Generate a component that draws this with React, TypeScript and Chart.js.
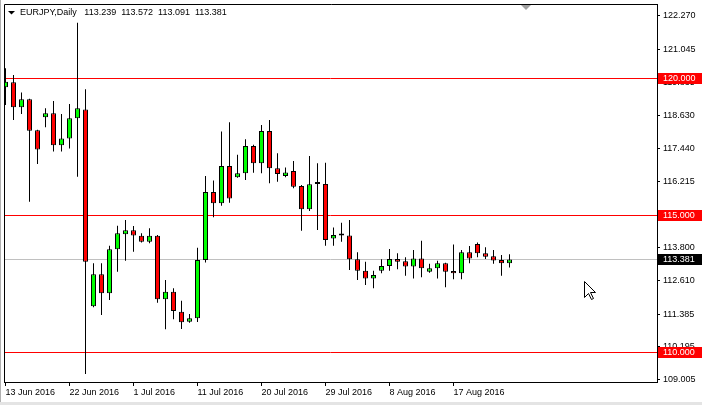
import React, { useEffect, useRef } from "react";
import { Chart, registerables } from "chart.js";

Chart.register(...registerables);

const symbolTitle = "EURJPY,Daily";
const headerValues = ["113.239", "113.572", "113.091", "113.381"];

const opens = [
  119.67, 119.85, 118.94, 119.23, 118.1, 118.57, 118.72, 117.55, 117.8, 118.54,
  118.86, 111.67, 112.84, 112.15, 113.75, 114.3, 114.45, 114.25, 114.03, 114.25,
  111.93, 112.2, 111.47, 111.11, 111.23, 113.36, 115.84, 115.43, 116.79, 116.38,
  116.53, 117.52, 116.89, 118.07, 116.71, 116.43, 116.61, 116.06, 115.21, 116.14,
  116.14, 114.15, 114.26, 114.26, 113.39, 112.97, 112.69, 112.97, 113.14, 113.4,
  113.32, 113.12, 113.42, 112.93, 113.06, 113.24, 112.96, 112.88, 113.64, 113.95,
  113.61, 113.5, 113.36, 113.239,
];
const highs = [
  120.36, 120.12, 119.48, 119.25, 118.12, 118.9, 119.17, 118.69, 119.06, 122.02,
  119.6, 113.24, 113.24, 113.88, 114.61, 114.82, 114.6, 114.34, 114.52, 114.27,
  112.63, 112.33, 111.87, 111.39, 113.81, 116.43, 116.26, 118.05, 118.39, 117.2,
  117.77, 117.57, 118.29, 118.47, 117.26, 116.74, 116.98, 116.1, 117.16, 116.89,
  116.91, 114.55, 114.72, 114.82, 113.64, 113.3, 112.97, 113.39, 113.76, 113.61,
  113.46, 113.73, 114.06, 113.22, 113.33, 113.26, 113.93, 113.73, 113.87, 114.0,
  113.83, 113.73, 113.54, 113.572,
];
const lows = [
  119.02, 118.47, 118.69, 115.49, 116.87, 118.21, 117.32, 117.32, 117.43, 116.4,
  109.2, 111.64, 111.35, 111.9, 112.93, 113.33, 113.66, 114.0, 113.97, 111.8,
  110.83, 111.2, 110.84, 111.07, 111.1, 113.27, 114.92, 115.34, 115.45, 116.36,
  116.28, 116.55, 116.53, 116.16, 116.22, 116.38, 115.98, 114.43, 115.15, 114.46,
  113.88, 113.88, 114.03, 113.0, 112.63, 112.45, 112.33, 112.88, 112.97, 113.02,
  112.79, 112.69, 112.73, 112.9, 112.69, 112.37, 112.66, 112.66, 113.24, 113.46,
  113.4, 113.22, 112.79, 113.091,
];
const closes = [
  119.87, 118.94, 119.23, 118.08, 117.4, 118.72, 117.55, 117.8, 118.54, 118.9,
  113.3, 112.84, 112.15, 113.75, 114.34, 114.45, 114.26, 114.03, 114.25, 111.93,
  112.2, 111.5, 111.09, 111.23, 113.36, 115.84, 115.43, 116.79, 115.61, 116.53,
  117.52, 116.89, 118.07, 116.71, 116.5, 116.56, 116.04, 115.21, 116.13, 116.14,
  114.09, 114.27, 114.26, 113.39, 112.97, 112.69, 112.81, 113.14, 113.4, 113.3,
  113.12, 113.42, 113.06, 113.06, 113.24, 112.93, 112.88, 113.64, 113.42, 113.61,
  113.48, 113.34, 113.24, 113.381,
];

const dateTickIndex = [0, 8, 16, 24, 32, 40, 48, 56];
const dateTickLabels = [
  "13 Jun 2016",
  "22 Jun 2016",
  "1 Jul 2016",
  "11 Jul 2016",
  "20 Jul 2016",
  "29 Jul 2016",
  "8 Aug 2016",
  "17 Aug 2016",
];
const priceTicks = [
  122.27, 121.045, 119.835, 118.63, 117.44, 116.215, 115.01, 113.8, 112.61, 111.385,
  110.195, 109.005,
];
const levelLines = [120, 115, 110];
const lastPrice = 113.381;

const yMin = 108.907;
const yMax = 122.708;
const xMin = -0.1875;
const xMax = 81.4375;

const FONT = '9px "Liberation Sans", Arial, sans-serif';
const UP = "#00ff00";
const DOWN = "#ff0000";

const overlay = {
  id: "mt4overlay",
  beforeDraw(chart: any) {
    const { ctx, width, height } = chart;
    ctx.save();
    ctx.fillStyle = "#ffffff";
    ctx.fillRect(0, 0, width, height);
    ctx.restore();
  },
  beforeDatasetsDraw(chart: any) {
    const { ctx, chartArea: a, scales } = chart;
    const y = scales.y;
    ctx.save();
    ctx.lineWidth = 1;
    const hline = (v: number, color: string) => {
      const py = Math.floor(y.getPixelForValue(v)) + 0.5;
      ctx.strokeStyle = color;
      ctx.beginPath();
      ctx.moveTo(a.left, py);
      ctx.lineTo(a.right, py);
      ctx.stroke();
    };
    hline(lastPrice, "#c0c0c0");
    levelLines.forEach((v) => hline(v, "#ff0000"));
    ctx.restore();
  },
  afterDatasetsDraw(chart: any) {
    const { ctx, chartArea: a } = chart;
    ctx.save();
    ctx.strokeStyle = "#000000";
    ctx.lineWidth = 1;
    ctx.beginPath();
    ctx.moveTo(a.left + 0.5, a.bottom);
    ctx.lineTo(a.left + 0.5, a.top + 0.5);
    ctx.lineTo(a.right + 1, a.top + 0.5);
    ctx.stroke();
    ctx.restore();
  },
  afterDraw(chart: any) {
    const { ctx, chartArea: a, scales, width, height } = chart;
    const y = scales.y;
    ctx.save();
    ctx.font = FONT;
    ctx.textBaseline = "middle";
    ctx.textAlign = "left";
    const box = (v: number, bg: string) => {
      const py = Math.floor(y.getPixelForValue(v));
      ctx.fillStyle = bg;
      ctx.fillRect(a.right + 1, py - 5, 44, 11);
      ctx.fillStyle = "#ffffff";
      ctx.fillText(v.toFixed(3), 663, py + 0.5);
    };
    levelLines.forEach((v) => box(v, "#ff0000"));
    box(lastPrice, "#000000");

    // header
    ctx.fillStyle = "#000000";
    ctx.beginPath();
    ctx.moveTo(8, 11);
    ctx.lineTo(15, 11);
    ctx.lineTo(11.5, 14.5);
    ctx.closePath();
    ctx.fill();
    ctx.fillText(symbolTitle + "   " + headerValues.join("  "), 20, 13);

    // chart shift marker
    ctx.fillStyle = "#a0a0a0";
    ctx.beginPath();
    ctx.moveTo(521, 5);
    ctx.lineTo(531, 5);
    ctx.lineTo(526, 10);
    ctx.closePath();
    ctx.fill();

    // window edges
    ctx.fillStyle = "#b0b0b0";
    ctx.fillRect(0, 0, 1, height);
    ctx.fillStyle = "#e4e4e4";
    ctx.fillRect(0, height - 3, width, 3);

    // mouse cursor
    const cx = 584;
    const cy = 281;
    const pts = [
      [0, 0], [0, 16], [4, 12], [7, 18], [9, 17], [6, 11], [11, 11],
    ];
    ctx.beginPath();
    pts.forEach(([px, py], i) => {
      if (i === 0) ctx.moveTo(cx + px + 0.5, cy + py + 0.5);
      else ctx.lineTo(cx + px + 0.5, cy + py + 0.5);
    });
    ctx.closePath();
    ctx.fillStyle = "#ffffff";
    ctx.fill();
    ctx.strokeStyle = "#000000";
    ctx.lineWidth = 1;
    ctx.stroke();
    ctx.restore();
  },
};

export default function App() {
  const canvasRef = useRef<HTMLCanvasElement | null>(null);

  useEffect(() => {
    const canvas = canvasRef.current;
    if (!canvas) return;
    const bodies = opens.map((o, i) => ({ x: i, y: [o, closes[i]] }));
    const wicks = lows.map((l, i) => ({ x: i, y: [l, highs[i]] }));
    const bodyColors = opens.map((o, i) =>
      closes[i] > o ? UP : closes[i] < o ? DOWN : "#000000"
    );

    const chart = new Chart(canvas, {
      type: "bar",
      data: {
        datasets: [
          {
            label: "body",
            data: bodies as any,
            backgroundColor: bodyColors,
            borderColor: "#000000",
            borderWidth: 1,
            borderSkipped: false,
            barThickness: 5,
            minBarLength: 2,
            grouped: false,
            inflateAmount: 0,
            clip: 0,
            order: 0,
          } as any,
          {
            label: "wick",
            data: wicks as any,
            backgroundColor: "#000000",
            borderWidth: 0,
            barThickness: 1,
            grouped: false,
            inflateAmount: 0,
            clip: 0,
            order: 1,
          } as any,
        ],
      },
      options: {
        responsive: false,
        animation: false,
        events: [],
        layout: { padding: { left: 4, top: 4, right: 0, bottom: 0 } },
        plugins: {
          legend: { display: false },
          tooltip: { enabled: false },
          title: { display: false },
        },
        scales: {
          x: {
            type: "linear",
            position: "bottom",
            min: xMin,
            max: xMax,
            offset: false,
            afterBuildTicks: (s: any) => {
              s.ticks = dateTickIndex.map((v) => ({ value: v }));
            },
            afterFit: (s: any) => {
              s.height = 23;
              s.paddingLeft = 0;
              s.paddingRight = 0;
            },
            ticks: {
              autoSkip: false,
              maxRotation: 0,
              minRotation: 0,
              align: "start",
              padding: 1,
              color: "#000000",
              font: { family: '"Liberation Sans", Arial, sans-serif', size: 9 },
              callback: (_v: any, i: number) => dateTickLabels[i],
            },
            grid: {
              offset: false,
              drawOnChartArea: false,
              drawTicks: true,
              tickLength: 4,
              tickColor: "#000000",
            },
            border: { display: true, color: "#000000", width: 1 },
          } as any,
          y: {
            type: "linear",
            position: "right",
            min: yMin,
            max: yMax,
            afterBuildTicks: (s: any) => {
              s.ticks = priceTicks.map((v) => ({ value: v }));
            },
            afterFit: (s: any) => {
              s.width = 45;
              s.paddingTop = 0;
              s.paddingBottom = 0;
            },
            ticks: {
              autoSkip: false,
              padding: 3,
              color: "#000000",
              font: { family: '"Liberation Sans", Arial, sans-serif', size: 9 },
              callback: (v: any) => Number(v).toFixed(3),
            },
            grid: {
              drawOnChartArea: false,
              drawTicks: true,
              tickLength: 3,
              tickColor: "#000000",
            },
            border: { display: true, color: "#000000", width: 1 },
          } as any,
        },
      },
      plugins: [overlay as any],
    });

    return () => {
      chart.destroy();
    };
  }, []);

  return (
    <div style={{ position: "absolute", left: 0, top: 0, width: 702, height: 405 }}>
      <canvas ref={canvasRef} width={702} height={405} style={{ display: "block" }} />
    </div>
  );
}
